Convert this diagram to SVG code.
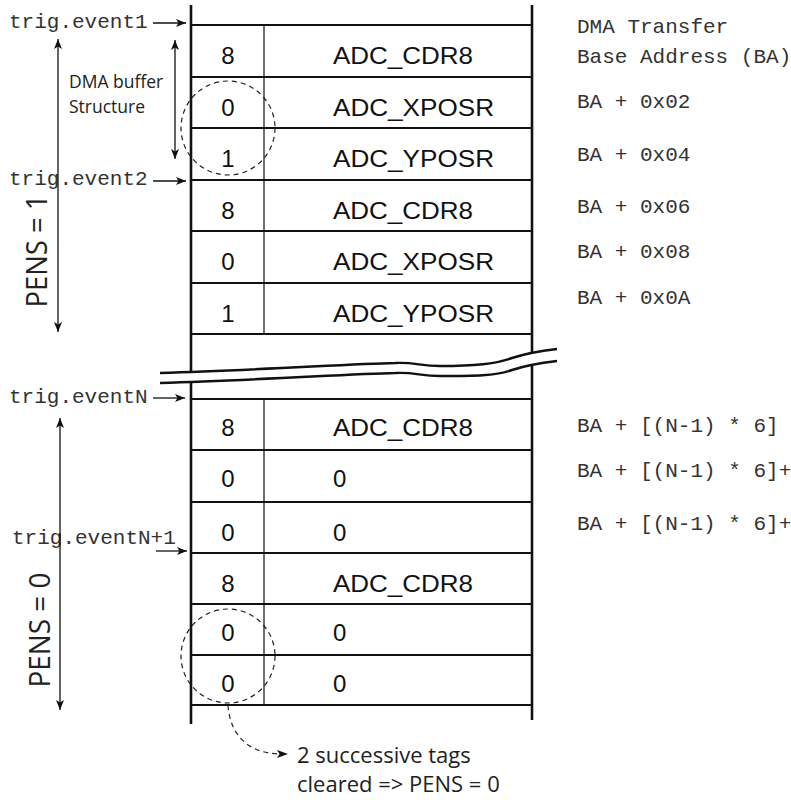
<svg xmlns="http://www.w3.org/2000/svg" width="791" height="800" viewBox="0 0 791 800">
<style>
.mono{font-family:"Liberation Mono","Courier New",monospace;font-size:21px;fill:#333}
.cell{font-family:"Liberation Sans",Arial,sans-serif;font-size:24px;fill:#111}
.lab{font-family:"Open Sans","Noto Sans",sans-serif;fill:#222}
.hl{stroke:#111;stroke-width:2;fill:none}
.wave{stroke:#111;stroke-width:2.4;fill:none}
.thick{stroke:#111;stroke-width:2.6;fill:none}
.thin{stroke:#222;stroke-width:1.3;fill:none}
.arr{stroke:#111;stroke-width:1.3;fill:none}
.dash{stroke:#222;stroke-width:1.2;fill:none;stroke-dasharray:5 4}
</style>
<defs>
<marker id="ah" viewBox="0 0 10 8" refX="10" refY="4" markerWidth="10" markerHeight="8" markerUnits="userSpaceOnUse" orient="auto-start-reverse">
<path d="M0,0 L10,4 L0,8 L2.5,4 Z" fill="#111"/>
</marker>
</defs>
<rect width="791" height="800" fill="#fff"/>

<g id="table">
<line class="thick" x1="191" y1="5" x2="191" y2="724"/>
<line class="thick" x1="532" y1="5" x2="532" y2="720"/>
<line class="thin" x1="264" y1="25" x2="264" y2="334"/>
<line class="thin" x1="264" y1="399" x2="264" y2="705"/>
<g class="hl">
<line x1="191" y1="25" x2="532" y2="25"/>
<line x1="191" y1="77" x2="532" y2="77"/>
<line x1="191" y1="128" x2="532" y2="128"/>
<line x1="191" y1="180" x2="532" y2="180"/>
<line x1="191" y1="231" x2="532" y2="231"/>
<line x1="191" y1="283" x2="532" y2="283"/>
<line x1="191" y1="334" x2="532" y2="334"/>
<line x1="191" y1="399" x2="532" y2="399"/>
<line x1="191" y1="450" x2="532" y2="450"/>
<line x1="191" y1="502" x2="532" y2="502"/>
<line x1="191" y1="553" x2="532" y2="553"/>
<line x1="191" y1="604" x2="532" y2="604"/>
<line x1="191" y1="655" x2="532" y2="655"/>
<line x1="191" y1="705" x2="532" y2="705"/>
</g>
</g>

<g id="break">
<path d="M160,373 C260,370 350,364 395,363 C415,362 420,366 440,366 C475,366 495,364 512,358 C527,353 540,351 557,349 L557,361 C540,363 527,365 512,370 C495,376 475,376 440,376 C420,376 415,372 395,373 C350,374 260,380 160,383 Z" fill="#fff" stroke="none"/>
<path class="wave" d="M160,373 C260,370 350,364 395,363 C415,362 420,366 440,366 C475,366 495,364 512,358 C527,353 540,351 557,349"/>
<path class="wave" d="M160,383 C260,380 350,374 395,373 C415,372 420,376 440,376 C475,376 495,376 512,370 C527,365 540,363 557,361"/>
</g>

<g id="rows-top">
<g id="r1"><text class="cell" x="228" y="64" text-anchor="middle">8</text><text class="cell" x="333" y="64" textLength="140" lengthAdjust="spacingAndGlyphs">ADC_CDR8</text></g>
<g id="r2"><text class="cell" x="228" y="116" text-anchor="middle">0</text><text class="cell" x="333" y="116" textLength="161" lengthAdjust="spacingAndGlyphs">ADC_XPOSR</text></g>
<g id="r3"><text class="cell" x="228" y="167" text-anchor="middle">1</text><text class="cell" x="333" y="167" textLength="161" lengthAdjust="spacingAndGlyphs">ADC_YPOSR</text></g>
<g id="r4"><text class="cell" x="228" y="219" text-anchor="middle">8</text><text class="cell" x="333" y="219" textLength="140" lengthAdjust="spacingAndGlyphs">ADC_CDR8</text></g>
<g id="r5"><text class="cell" x="228" y="270" text-anchor="middle">0</text><text class="cell" x="333" y="270" textLength="161" lengthAdjust="spacingAndGlyphs">ADC_XPOSR</text></g>
<g id="r6"><text class="cell" x="228" y="322" text-anchor="middle">1</text><text class="cell" x="333" y="322" textLength="161" lengthAdjust="spacingAndGlyphs">ADC_YPOSR</text></g>
</g>

<g id="rows-bottom">
<g id="r7"><text class="cell" x="228" y="436" text-anchor="middle">8</text><text class="cell" x="333" y="436" textLength="140" lengthAdjust="spacingAndGlyphs">ADC_CDR8</text></g>
<g id="r8"><text class="cell" x="228" y="487" text-anchor="middle">0</text><text class="cell" x="333" y="487">0</text></g>
<g id="r9"><text class="cell" x="228" y="541" text-anchor="middle">0</text><text class="cell" x="333" y="541">0</text></g>
<g id="r10"><text class="cell" x="228" y="592" text-anchor="middle">8</text><text class="cell" x="333" y="592" textLength="140" lengthAdjust="spacingAndGlyphs">ADC_CDR8</text></g>
<g id="r11"><text class="cell" x="228" y="641" text-anchor="middle">0</text><text class="cell" x="333" y="641">0</text></g>
<g id="r12"><text class="cell" x="228" y="692" text-anchor="middle">0</text><text class="cell" x="333" y="692">0</text></g>
</g>

<g id="trig-labels">
<text class="mono" x="9" y="28">trig.event1</text>
<text class="mono" x="9" y="185">trig.event2</text>
<text class="mono" x="9" y="403">trig.eventN</text>
<text class="mono" x="12" y="544">trig.eventN+1</text>
</g>

<g id="addresses">
<text class="mono" x="577" y="33">DMA Transfer</text>
<text class="mono" x="577" y="63">Base Address (BA)</text>
<text class="mono" x="577" y="108">BA + 0x02</text>
<text class="mono" x="577" y="161">BA + 0x04</text>
<text class="mono" x="577" y="213">BA + 0x06</text>
<text class="mono" x="577" y="258">BA + 0x08</text>
<text class="mono" x="577" y="304">BA + 0x0A</text>
<text class="mono" x="577" y="432">BA + [(N-1) * 6]</text>
<text class="mono" x="577" y="477">BA + [(N-1) * 6]+</text>
<text class="mono" x="577" y="530">BA + [(N-1) * 6]+</text>
</g>

<g id="side-labels">
<text class="lab" font-size="17.5" x="69" y="88">DMA buffer</text>
<text class="lab" font-size="17.5" x="69" y="113">Structure</text>
<text class="lab" font-size="30" transform="translate(47,251) rotate(-90)" text-anchor="middle" textLength="113" lengthAdjust="spacingAndGlyphs">PENS = 1</text>
<text class="lab" font-size="30" transform="translate(50,630) rotate(-90)" text-anchor="middle" textLength="115" lengthAdjust="spacingAndGlyphs">PENS = 0</text>
<text class="lab" font-size="22" x="297" y="763">2 successive tags</text>
<text class="lab" font-size="22" x="297" y="792">cleared =&gt; PENS = 0</text>
</g>

<g id="highlights">
<circle class="dash" cx="228" cy="128" r="47"/>
<circle class="dash" cx="228" cy="656" r="47"/>
</g>

<g id="connectors">
<line class="arr" x1="153" y1="23" x2="186" y2="23" marker-end="url(#ah)"/>
<line class="arr" x1="153" y1="181" x2="186" y2="181" marker-end="url(#ah)"/>
<line class="arr" x1="153" y1="398" x2="185" y2="398" marker-end="url(#ah)"/>
<line class="arr" x1="156" y1="551" x2="187" y2="551" marker-end="url(#ah)"/>
<line class="arr" x1="58" y1="39" x2="58" y2="332" marker-start="url(#ah)" marker-end="url(#ah)"/>
<line class="arr" x1="60" y1="418" x2="60" y2="710" marker-start="url(#ah)" marker-end="url(#ah)"/>
<line class="arr" x1="175" y1="40" x2="175" y2="159" marker-start="url(#ah)" marker-end="url(#ah)"/>
<path class="dash" d="M228,705 C230,735 248,753 279,754"/>
<path d="M277,750 L288,754 L277,758 L279.5,754 Z" fill="#111"/>
</g>
</svg>
